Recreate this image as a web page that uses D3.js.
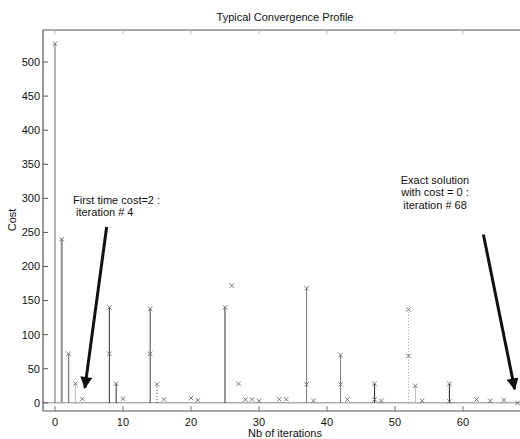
<!DOCTYPE html>
<html>
<head>
<meta charset="utf-8">
<script src="https://cdn.jsdelivr.net/npm/d3@7"></script>
<style>
  body { margin: 0; background: #fff; }
  svg text { font-family: "Liberation Sans", Arial, sans-serif; fill: #111; }
</style>
</head>
<body>
<div id="chart"></div>
<script>
const width = 520;
const height = 439;

// ******** DATA ********
// iteration index and best cost reached at that iteration
const iterations = [0, 1, 2, 3, 4, 8, 9, 10, 14, 15, 16, 20, 21, 25, 26, 27, 28, 29, 30,
  33, 34, 37, 38, 42, 43, 47, 48, 52, 53, 54, 58, 62, 64, 66, 68];
const costs = [527, 240, 72, 28, 6, 140, 28, 6, 138, 27, 5, 7, 4, 140, 172, 28, 5, 5, 3,
  5, 5, 168, 3, 70, 5, 28, 3, 137, 25, 3, 28, 5, 3, 4, 0];
// second marker on some stems
const extraIterations = [8, 14, 37, 42, 47, 52, 58];
const extraCosts = [72, 72, 27, 27, 5, 69, 2];
const xTicks = [0, 10, 20, 30, 40, 50, 60];
const yTicks = [0, 50, 100, 150, 200, 250, 300, 350, 400, 450, 500];

// ******** SCALES ********
var x_scale = d3.scaleLinear().domain([-1.76, 70]).range([43, 531]);
var y_scale = d3.scaleLinear().domain([-12, 547]).range([411, 30]);

var svg = d3.select("#chart").append("svg")
  .attr("width", width)
  .attr("height", height);

// stem look per iteration (grey levels in the scanned figure)
var stemStyle = {
  0: {c: "#666", w: 1}, 1: {c: "#999", w: 2.2}, 2: {c: "#888", w: 1.5}, 3: {c: "#bbb", w: 1},
  8: {c: "#333", w: 1}, 9: {c: "#333", w: 1}, 14: {c: "#444", w: 1}, 15: {c: "#333", w: 1, d: "1,2"},
  25: {c: "#333", w: 1}, 37: {c: "#777", w: 1}, 42: {c: "#777", w: 1}, 47: {c: "#222", w: 1},
  52: {c: "#999", w: 1, d: "1,2"}, 53: {c: "#bbb", w: 1}, 58: {c: "#222", w: 1}
};

// ******** BASELINE ********
svg.append("line")
  .attr("x1", x_scale.range()[0]).attr("x2", width)
  .attr("y1", y_scale(0)).attr("y2", y_scale(0))
  .style("stroke", "#888").style("stroke-width", 1);

// ******** STEMS ********
var points = iterations.map(function(d, i){ return {it: d, cost: costs[i]}; });
var extras = extraIterations.map(function(d, i){ return {it: d, cost: extraCosts[i]}; });

svg.append("g").selectAll("line")
  .data(points.filter(function(d){ return stemStyle[d.it]; }))
  .enter().append("line")
  .attr("x1", function(d){ return x_scale(d.it); })
  .attr("x2", function(d){ return x_scale(d.it); })
  .attr("y1", y_scale(0))
  .attr("y2", function(d){ return y_scale(d.cost); })
  .style("stroke", function(d){ return stemStyle[d.it].c; })
  .style("stroke-width", function(d){ return stemStyle[d.it].w; })
  .style("stroke-dasharray", function(d){ return stemStyle[d.it].d || null; });

// ******** MARKERS ********
function drawX(sel){
  sel.append("path")
    .attr("d", function(d){
      var cx = x_scale(d.it), cy = y_scale(d.cost), r = 2.2;
      return `M${cx-r},${cy-r}L${cx+r},${cy+r}M${cx-r},${cy+r}L${cx+r},${cy-r}`;
    })
    .style("stroke", "#666")
    .style("stroke-width", 0.9)
    .style("fill", "none");
}
drawX(svg.append("g").selectAll("g").data(points).enter().append("g"));
drawX(svg.append("g").selectAll("g").data(extras).enter().append("g"));

// ******** AXES FRAME ********
var x0 = x_scale.range()[0], yb = y_scale.range()[0], yt = y_scale.range()[1];
svg.append("line").attr("x1", x0).attr("x2", x0).attr("y1", yt).attr("y2", yb)
  .style("stroke", "#555").style("stroke-width", 1.2);
svg.append("line").attr("x1", x0).attr("x2", width).attr("y1", yb).attr("y2", yb)
  .style("stroke", "#555").style("stroke-width", 1.2);
svg.append("line").attr("x1", x0).attr("x2", width).attr("y1", yt).attr("y2", yt)
  .style("stroke", "#555").style("stroke-width", 1.2);

// ticks inside the box
svg.append("g").selectAll("line").data(yTicks).enter().append("line")
  .attr("x1", x0).attr("x2", x0 + 5)
  .attr("y1", function(d){ return y_scale(d); }).attr("y2", function(d){ return y_scale(d); })
  .style("stroke", "#555");
svg.append("g").selectAll("line").data(xTicks).enter().append("line")
  .attr("x1", function(d){ return x_scale(d); }).attr("x2", function(d){ return x_scale(d); })
  .attr("y1", yb).attr("y2", yb - 5)
  .style("stroke", "#777");
svg.append("g").selectAll("line").data(xTicks).enter().append("line")
  .attr("x1", function(d){ return x_scale(d); }).attr("x2", function(d){ return x_scale(d); })
  .attr("y1", yt).attr("y2", yt + 4)
  .style("stroke", "#bbb");

// tick labels
svg.append("g").selectAll("text").data(yTicks).enter().append("text")
  .attr("x", x0 - 3)
  .attr("y", function(d){ return y_scale(d); })
  .attr("dy", "0.35em")
  .style("text-anchor", "end")
  .style("font-size", "11px")
  .text(function(d){ return d; });
svg.append("g").selectAll("text").data(xTicks).enter().append("text")
  .attr("x", function(d){ return x_scale(d); })
  .attr("y", yb + 15)
  .style("text-anchor", "middle")
  .style("font-size", "11px")
  .text(function(d){ return d; });

// ******** TITLES ********
svg.append("text")
  .attr("x", 285).attr("y", 21)
  .style("text-anchor", "middle").style("font-size", "11px")
  .text("Typical Convergence Profile");
svg.append("text")
  .attr("x", 285).attr("y", 437)
  .style("text-anchor", "middle").style("font-size", "11px")
  .text("Nb of iterations");
svg.append("text")
  .attr("transform", "translate(16, 220) rotate(-90)")
  .style("text-anchor", "middle").style("font-size", "11px")
  .text("Cost");

// ******** ANNOTATIONS ********
var defs = svg.append("defs");
defs.append("marker")
  .attr("id", "arrow")
  .attr("viewBox", "0 0 10 10")
  .attr("refX", 9).attr("refY", 5)
  .attr("markerWidth", 4.5).attr("markerHeight", 4)
  .attr("orient", "auto")
  .append("path").attr("d", "M0,0L10,5L0,10Z").style("fill", "#111");

var arrows = [
  {x1: 7.6, y1: 258, x2: 4.4, y2: 22},
  {x1: 63, y1: 247, x2: 67.6, y2: 20}
];
svg.append("g").selectAll("line").data(arrows).enter().append("line")
  .attr("x1", function(d){ return x_scale(d.x1); })
  .attr("y1", function(d){ return y_scale(d.y1); })
  .attr("x2", function(d){ return x_scale(d.x2); })
  .attr("y2", function(d){ return y_scale(d.y2); })
  .style("stroke", "#111").style("stroke-width", 3)
  .attr("marker-end", "url(#arrow)");

var note1 = svg.append("text").style("font-size", "11px");
note1.append("tspan").attr("x", 73).attr("y", 204).text("First time cost=2 :");
note1.append("tspan").attr("x", 76).attr("y", 216).text("iteration # 4");

var note2 = svg.append("text").style("font-size", "11px").style("text-anchor", "middle");
note2.append("tspan").attr("x", 435).attr("y", 184).text("Exact solution");
note2.append("tspan").attr("x", 435).attr("y", 196).text("with cost = 0 :");
note2.append("tspan").attr("x", 435).attr("y", 209).text("iteration # 68");
</script>
</body>
</html>
